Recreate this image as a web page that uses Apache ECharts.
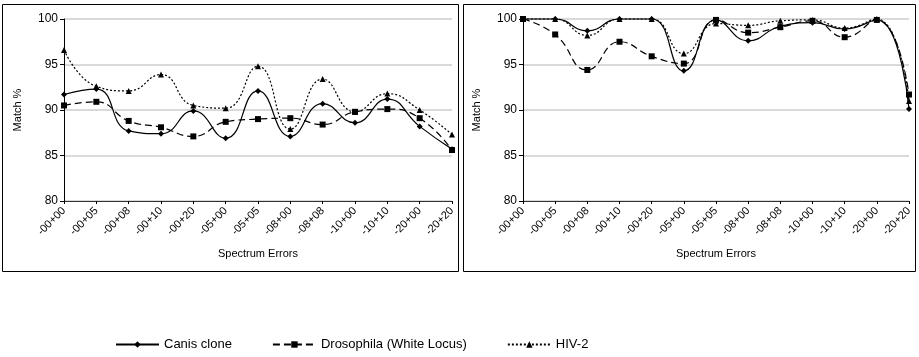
<!DOCTYPE html>
<html><head><meta charset="utf-8">
<script src="https://cdn.jsdelivr.net/npm/echarts@6/dist/echarts.min.js"></script>
<style>html,body{margin:0;padding:0;background:#fff}#c{width:919px;height:357px}</style>
</head><body><div id="c"></div>
<script>
const categories = ['-00+00','-00+05','-00+08','-00+10','-00+20','-05+00','-05+05','-08+00','-08+08','-10+00','-10+10','-20+00','-20+20'];
const seriesNames = ['Canis clone','Drosophila (White Locus)','HIV-2'];
// left panel
const leftCanis = [91.7,92.3,87.7,87.4,89.9,86.9,92.1,87.1,90.7,88.6,91.2,88.2,85.7];
const leftDroso = [90.5,90.9,88.8,88.1,87.1,88.7,89.0,89.1,88.4,89.8,90.1,89.1,85.6];
const leftHiv   = [96.6,92.6,92.1,93.9,90.5,90.2,94.8,87.9,93.4,89.8,91.8,90.0,87.3];
// right panel
const rightCanis = [100,100,98.7,100,100,94.3,99.9,97.6,99.2,99.6,98.9,99.9,90.1];
const rightDroso = [100,98.3,94.4,97.5,95.9,95.1,99.9,98.5,99.1,99.8,98.0,99.9,91.7];
const rightHiv   = [100,100,98.2,100,100,96.2,99.5,99.3,99.8,99.9,99.0,100,91.0];
const yTicks = {min:80, max:100, interval:5};

const FONT = '"Liberation Sans",Arial,sans-serif';
const styles = [
  {symbol:'diamond', symbolSize:6, type:'solid', width:1.2},
  {symbol:'rect', symbolSize:6, type:[7,4], width:1.2},
  {symbol:'triangle', symbolSize:6, type:[2,2], width:1.2}
];
function mkSeries(name, data, idx, gi){
  const s = styles[idx];
  return {name, type:'line', data, xAxisIndex:gi, yAxisIndex:gi, smooth:0.5, clip:false,
    symbol:s.symbol, symbolSize:s.symbolSize, showSymbol:true,
    itemStyle:{color:'#000'}, lineStyle:{color:'#000', width:s.width, type:s.type},
    emphasis:{disabled:true}, animation:false};
}
function xAx(gi){
  return {type:'category', gridIndex:gi, data:categories, boundaryGap:false,
    axisLine:{lineStyle:{color:'#333',width:1}}, axisTick:{show:true, length:3, lineStyle:{color:'#000'}},
    axisLabel:{rotate:45, color:'#000', fontSize:11, fontFamily:FONT, margin:8, interval:0},
    name:'Spectrum Errors', nameLocation:'middle', nameGap:47,
    nameTextStyle:{color:'#000', fontSize:11, fontFamily:FONT}};
}
function yAx(gi){
  return {type:'value', gridIndex:gi, min:yTicks.min, max:yTicks.max, interval:yTicks.interval,
    axisLine:{show:true, lineStyle:{color:'#000',width:1}}, axisTick:{show:true, length:4, lineStyle:{color:'#000'}},
    axisLabel:{color:'#000', fontSize:12, fontFamily:FONT, margin:6},
    splitLine:{show:true, lineStyle:{color:'#d9d9d9', width:2}},
    name:'Match %', nameLocation:'middle', nameGap:41, nameRotate:90,
    nameTextStyle:{color:'#000', fontSize:11, fontFamily:FONT}};
}
const chart = echarts.init(document.getElementById('c'), null, {renderer:'canvas'});
chart.setOption({
  animation:false,
  backgroundColor:'#fff',
  graphic:[
    {type:'rect', shape:{x:2.5, y:4.5, width:456, height:267}, style:{fill:'none', stroke:'#000', lineWidth:1}, z:-1},
    {type:'rect', shape:{x:463.5, y:4.5, width:452, height:267}, style:{fill:'none', stroke:'#000', lineWidth:1}, z:-1}
  ],
  grid:[
    {left:64, right:467, top:19, bottom:156},
    {left:523, right:10, top:19, bottom:156}
  ],
  xAxis:[xAx(0), xAx(1)],
  yAxis:[yAx(0), yAx(1)],
  legend:{left:110, top:333, itemGap:40, itemWidth:43, itemHeight:8,
    textStyle:{color:'#000', fontSize:13, fontFamily:FONT}, data:seriesNames},
  series:[
    mkSeries(seriesNames[0], leftCanis, 0, 0),
    mkSeries(seriesNames[1], leftDroso, 1, 0),
    mkSeries(seriesNames[2], leftHiv, 2, 0),
    mkSeries(seriesNames[0], rightCanis, 0, 1),
    mkSeries(seriesNames[1], rightDroso, 1, 1),
    mkSeries(seriesNames[2], rightHiv, 2, 1)
  ]
});
</script></body></html>
